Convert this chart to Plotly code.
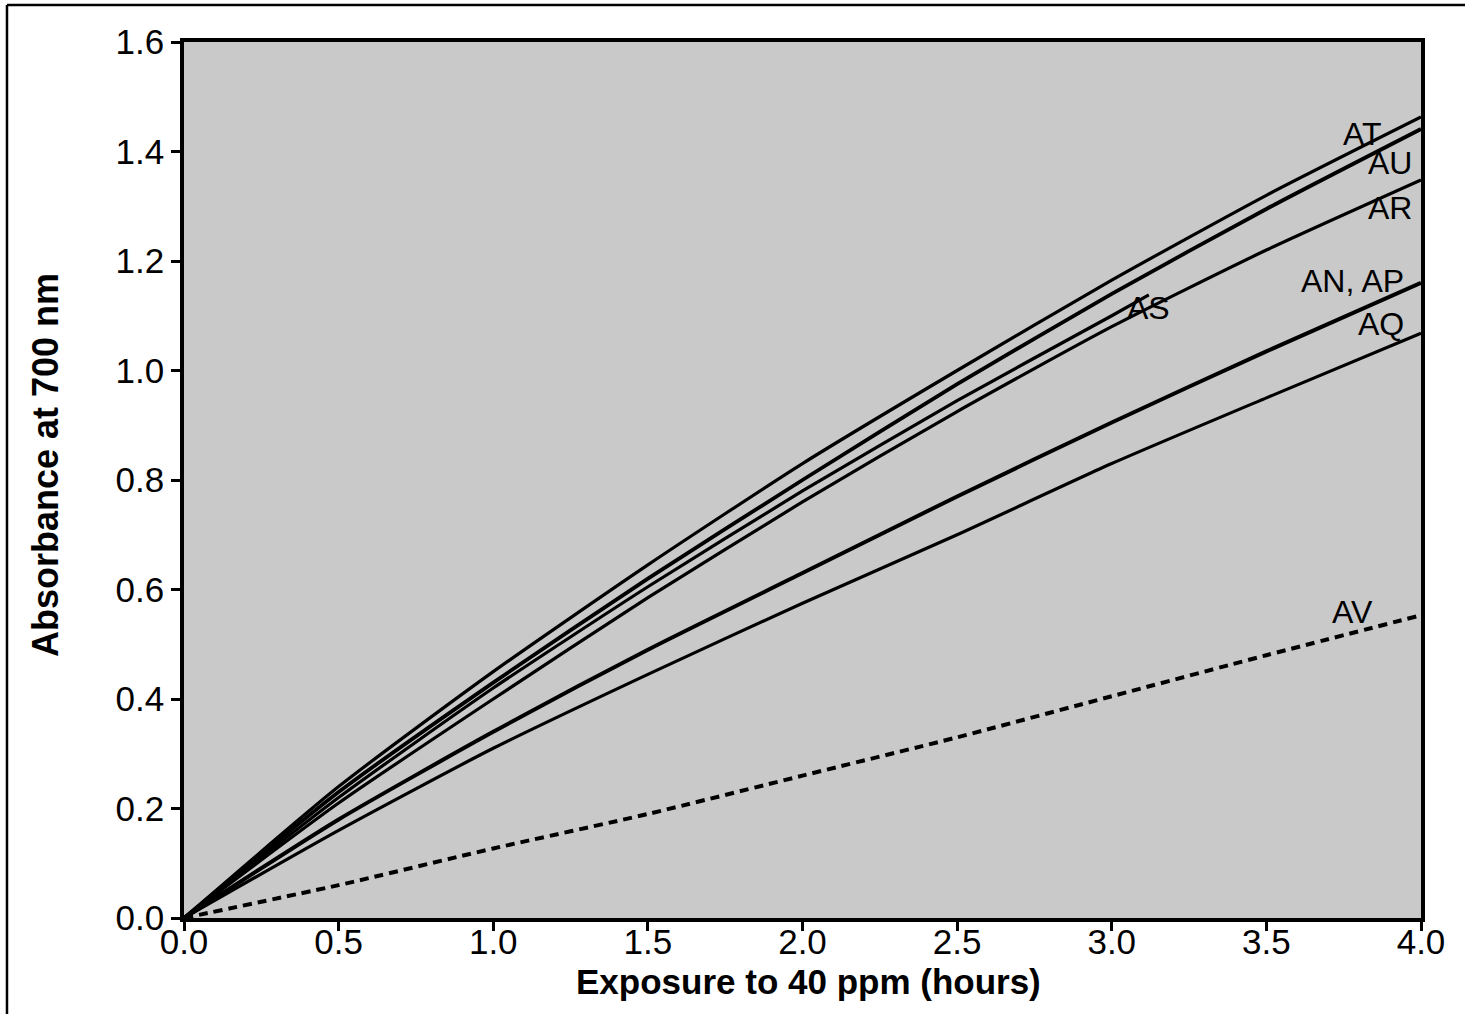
import plotly.graph_objects as go

# Exposure time (hours) at which each absorbance curve is sampled
hours = [0.0, 0.5, 1.0, 1.5, 2.0, 2.5, 3.0, 3.5, 4.0]
hours_as = [0.0, 0.5, 1.0, 1.5, 2.0, 2.5, 3.0, 3.12]

# Absorbance at 700 nm for each sample
abs_at = [0.0, 0.24, 0.45, 0.645, 0.83, 1.00, 1.165, 1.32, 1.463]
abs_au = [0.0, 0.23, 0.43, 0.62, 0.80, 0.975, 1.14, 1.295, 1.441]
abs_as = [0.0, 0.22, 0.42, 0.605, 0.78, 0.945, 1.10, 1.138]
abs_ar = [0.0, 0.21, 0.40, 0.585, 0.76, 0.925, 1.08, 1.22, 1.348]
abs_anap = [0.0, 0.18, 0.34, 0.49, 0.63, 0.77, 0.905, 1.035, 1.16]
abs_aq = [0.0, 0.16, 0.31, 0.445, 0.575, 0.70, 0.83, 0.95, 1.068]
abs_av = [0.0, 0.06, 0.127, 0.19, 0.26, 0.33, 0.405, 0.48, 0.553]

# Curve labels and where they sit (hours, absorbance)
label_text = ["AT", "AU", "AR", "AN, AP", "AQ", "AS", "AV"]
label_x = [3.81, 3.90, 3.90, 3.78, 3.87, 3.12, 3.78]
label_y = [1.432, 1.379, 1.297, 1.163, 1.085, 1.114, 0.559]

x_ticks = [0.0, 0.5, 1.0, 1.5, 2.0, 2.5, 3.0, 3.5, 4.0]
y_ticks = [0.0, 0.2, 0.4, 0.6, 0.8, 1.0, 1.2, 1.4, 1.6]

FONT = "Liberation Sans, Arial, sans-serif"

fig = go.Figure()

solid = [
    (hours, abs_at, 3.2),
    (hours, abs_au, 3.8),
    (hours_as, abs_as, 3.2),
    (hours, abs_ar, 3.2),
    (hours, abs_anap, 4.0),
    (hours, abs_aq, 3.2),
]
for xs, ys, w in solid:
    fig.add_trace(go.Scatter(
        x=xs, y=ys, mode="lines",
        line=dict(color="black", width=w, shape="spline", smoothing=0.6),
        showlegend=False, hoverinfo="skip",
    ))

fig.add_trace(go.Scatter(
    x=hours, y=abs_av, mode="lines",
    line=dict(color="black", width=4, dash="9px,6px", shape="spline", smoothing=0.6),
    showlegend=False, hoverinfo="skip",
))

for t, lx, ly in zip(label_text, label_x, label_y):
    fig.add_annotation(
        x=lx, y=ly, text=t, showarrow=False,
        font=dict(family=FONT, size=32, color="black"),
        xanchor="center", yanchor="middle",
    )

# Axis titles
fig.add_annotation(
    xref="paper", yref="paper", x=0.5045, y=-0.072,
    text="<b>Exposure to 40 ppm (hours)</b>", showarrow=False,
    font=dict(family=FONT, size=35, color="black"),
    xanchor="center", yanchor="middle",
)
fig.add_annotation(
    xref="paper", yref="paper", x=-0.1124, y=0.517,
    text="<b>Absorbance at 700 nm</b>", showarrow=False, textangle=-90,
    font=dict(family=FONT, size=36, color="black"),
    xanchor="center", yanchor="middle",
)

# Outer border on the top and left of the figure
fig.add_shape(type="line", xref="paper", yref="paper",
              x0=-0.1431, x1=-0.1431, y0=-0.12, y1=1.0422,
              line=dict(color="black", width=2.5))
fig.add_shape(type="line", xref="paper", yref="paper",
              x0=-0.1431, x1=1.04, y0=1.0422, y1=1.0422,
              line=dict(color="black", width=2.5))

axis_common = dict(
    showgrid=False, zeroline=False,
    showline=True, linecolor="black", linewidth=3.5, mirror=True,
    ticks="outside", ticklen=9, tickwidth=2.5, tickcolor="black",
    tickfont=dict(family=FONT, size=35, color="black"),
)

fig.update_xaxes(
    range=[0, 4.0], tickvals=x_ticks, ticktext=[f"{v:.1f}" for v in x_ticks],
    ticklabelstandoff=-19,
    **axis_common,
)
fig.update_yaxes(
    range=[0, 1.6], tickvals=y_ticks, ticktext=[f"{v:.1f}" for v in y_ticks],
    ticklabelstandoff=0,
    **axis_common,
)

fig.update_layout(
    width=1465, height=1014,
    margin=dict(l=184, r=44, t=42, b=96),
    paper_bgcolor="white",
    plot_bgcolor="#c9c9c9",
)

fig.write_html("out.html")
